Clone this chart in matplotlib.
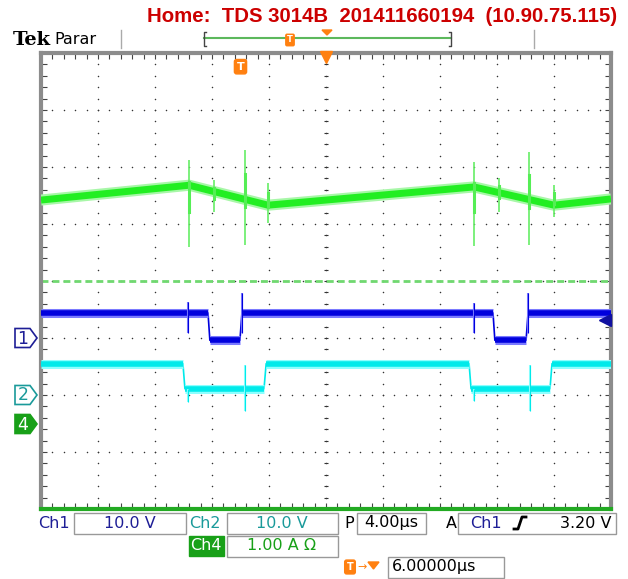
import numpy as np
import matplotlib.pyplot as plt
from matplotlib.patches import Polygon, Rectangle

# time in microseconds (4 us/div, 10 div), vertical in screen divisions (-4..4)
t_green = [0.0, 10.39, 15.93, 30.39, 36.0, 40.0]
v_green = [1.42, 1.68, 1.33, 1.65, 1.33, 1.44]
spk_green_t = [10.39, 12.14, 14.32, 15.93, 30.39, 32.14, 34.25, 36.0]
spk_green_hi = [2.12, 1.77, 2.30, 1.72, 2.09, 1.81, 2.26, 1.68]
spk_green_lo = [0.60, 1.21, 0.63, 1.02, 0.61, 1.21, 0.63, 1.12]

t_ch1 = [0.0, 11.72, 11.85, 13.96, 14.10, 31.72, 31.85, 34.04, 34.18, 40.0]
v_ch1 = [-0.56, -0.56, -1.04, -1.04, -0.56, -0.56, -1.04, -1.04, -0.56, -0.56]
spk_ch1_t = [10.32, 14.10, 30.39, 34.18]
spk_ch1_hi = [-0.37, -0.21, -0.39, -0.21]
spk_ch1_lo = [-0.91, -0.91, -0.91, -0.91]

t_ch2 = [0.0, 9.96, 10.10, 15.65, 15.80, 30.04, 30.18, 35.72, 35.86, 40.0]
v_ch2 = [-1.45, -1.45, -1.89, -1.89, -1.45, -1.45, -1.89, -1.89, -1.45, -1.45]
spk_ch2_t = [10.32, 14.32, 30.39, 34.32]
spk_ch2_hi = [-1.89, -1.47, -1.89, -1.47]
spk_ch2_lo = [-2.12, -2.28, -2.10, -2.28]

ch1_ref = -1.0
ch2_ref = -2.0
ch4_ref = -2.5
trig_level = -0.68
trig_pos = 14.0

DKBLUE = '#1e1e96'
TEAL = '#1a9a9a'
GREEN4 = '#18a018'
ORANGE = '#ff8010'

fig = plt.figure(figsize=(6.28, 5.79), dpi=100)

# chrome layer in pixel coordinates
bg = fig.add_axes([0, 0, 1, 1])
bg.set_xlim(0, 628)
bg.set_ylim(579, 0)
bg.axis('off')

bg.text(147, 17, "Home:  TDS 3014B  201411660194  (10.90.75.115)", color='#cc0000',
        fontsize=14.7, fontweight='bold', family='Liberation Sans', ha='left', va='center')
bg.text(13, 40, "Tek", fontsize=14, fontweight='bold', family='DejaVu Serif', ha='left', va='center')
bg.text(54, 40, "Parar", fontsize=11.5, family='DejaVu Sans', ha='left', va='center')
for x in (121, 534):
    bg.plot([x, x], [30, 48], color='#aaaaaa', lw=1)
bg.plot([204, 451], [38, 38], color='#5cb85c', lw=1.5)
bg.plot([206, 204, 204, 206], [32, 32, 46, 46], color='#444444', lw=1)
bg.plot([449, 451, 451, 449], [32, 32, 46, 46], color='#444444', lw=1)
bg.text(290, 40, "T", color='white', fontsize=6, fontweight='bold', ha='center', va='center',
        bbox=dict(boxstyle='round,pad=0.15', fc=ORANGE, ec=ORANGE))
bg.add_patch(Polygon([[322, 30], [332, 30], [327, 35]], closed=True, color=ORANGE))

# channel markers
def marker(y, label, ec, fc, tc):
    bg.add_patch(Polygon([[15, y - 9.5], [30, y - 9.5], [37, y], [30, y + 9.5], [15, y + 9.5]],
                         closed=True, fc=fc, ec=ec, lw=1.2))
    bg.text(23, y + 0.5, label, color=tc, fontsize=12.5, ha='center', va='center')

marker(338, "1", DKBLUE, 'white', DKBLUE)
marker(395, "2", TEAL, 'white', TEAL)
marker(424, "4", GREEN4, GREEN4, 'white')

# bottom readout
def box(x0, x1, y0, y1):
    bg.add_patch(Rectangle((x0, y0), x1 - x0, y1 - y0, fc='white', ec='#999999', lw=1))

fs = 11.5
box(74, 186, 513, 534)
bg.text(38, 523, "Ch1", color=DKBLUE, fontsize=fs, va='center')
bg.text(130, 523, "10.0 V", color=DKBLUE, fontsize=fs, va='center', ha='center')
box(227, 338, 513, 534)
bg.text(189, 523, "Ch2", color=TEAL, fontsize=fs, va='center')
bg.text(282, 523, "10.0 V", color=TEAL, fontsize=fs, va='center', ha='center')
box(357, 426, 513, 534)
bg.text(344, 523, "P", color='black', fontsize=fs, va='center')
bg.text(391, 523, "4.00µs", color='black', fontsize=fs, va='center', ha='center')
box(458, 616, 513, 534)
bg.text(446, 523, "A", color='black', fontsize=fs, va='center')
bg.text(470, 523, "Ch1", color=DKBLUE, fontsize=fs, va='center')
bg.plot([514, 518, 522, 526], [529, 529, 517, 517], color='black', lw=2)
bg.text(612, 523, "3.20 V", color='black', fontsize=fs, va='center', ha='right')

bg.add_patch(Rectangle((189, 536), 35, 20, fc=GREEN4, ec=GREEN4))
bg.text(206, 546, "Ch4", color='white', fontsize=fs, va='center', ha='center')
box(227, 338, 536, 557)
bg.text(282, 546, "1.00 A Ω", color=GREEN4, fontsize=fs, va='center', ha='center')

bg.text(350, 567, "T", color='white', fontsize=7, fontweight='bold', ha='center', va='center',
        bbox=dict(boxstyle='round,pad=0.2', fc=ORANGE, ec=ORANGE))
bg.text(362, 567, "→", color=ORANGE, fontsize=8, ha='center', va='center')
bg.add_patch(Polygon([[368, 562], [379, 562], [373.5, 569]], closed=True, color=ORANGE))
box(388, 504, 557, 578)
bg.text(392, 567, "6.00000µs", color='black', fontsize=fs, va='center', ha='left')

# graticule
ax = fig.add_axes([41 / 628, 70 / 579, 570 / 628, 456 / 579])
ax.set_xlim(0, 40)
ax.set_ylim(-4, 4)
for s in ax.spines.values():
    s.set_color('#8c8c8c')
    s.set_linewidth(3)
ax.spines['bottom'].set_color('#22aa22')
ax.set_xticks(np.arange(0, 40.1, 4))
ax.set_yticks(np.arange(-4, 4.1, 1))
ax.set_xticks(np.arange(0, 40.1, 0.8), minor=True)
ax.set_yticks(np.arange(-4, 4.1, 0.2), minor=True)
ax.tick_params(which='both', direction='in', length=4, width=0.8, color='#444444',
               top=True, right=True, labelbottom=False, labelleft=False)

ydots = np.arange(-4, 4.01, 0.2)
xdots = np.arange(0, 40.01, 0.8)
for x in np.arange(4, 37, 4):
    ax.scatter(np.full_like(ydots, x), ydots, s=1.2, color='#333333', zorder=1, linewidths=0)
for y in np.arange(-3, 3.5, 1):
    ax.scatter(xdots, np.full_like(xdots, y), s=1.2, color='#333333', zorder=1, linewidths=0)
ax.scatter(np.full_like(ydots, 20), ydots, marker='_', s=12, color='#333333', lw=0.8, zorder=1)

ax.axhline(0, color='#70d870', lw=2, ls=(0, (2.5, 1.45)), zorder=2)
ax.axhline(-4, color='#22bb22', lw=2.5, zorder=2)

# green trace
ax.plot(t_green, v_green, color='#a8f7a8', lw=8, solid_capstyle='butt', zorder=3)
ax.plot(t_green, v_green, color='#22ee22', lw=5, solid_capstyle='butt', zorder=3)
ax.vlines(spk_green_t, spk_green_lo, spk_green_hi, color='#66ee66', lw=1.2, zorder=3)
for t, lo, hi in zip(spk_green_t, spk_green_lo, spk_green_hi):
    ax.plot([t, t], [lo + 0.4 * (hi - lo), hi - 0.25 * (hi - lo)], color='#55ee55', lw=2.2, zorder=3)

def step_trace(t, v, edge, core, spt, splo, sphi):
    ax.plot(t, v, color=core, lw=1.2, zorder=4)
    for i in range(len(t) - 1):
        if v[i] == v[i + 1]:
            ax.plot(t[i:i + 2], v[i:i + 2], color=edge, lw=6.5, solid_capstyle='butt', zorder=4)
            ax.plot(t[i:i + 2], v[i:i + 2], color=core, lw=4, solid_capstyle='butt', zorder=4)
    ax.vlines(spt, splo, sphi, color=edge, lw=1.5, zorder=4)
    ax.vlines(spt, splo, sphi, color=core, lw=0.8, zorder=4)

step_trace(t_ch1, v_ch1, '#7a7aff', '#0000dd', spk_ch1_t, spk_ch1_lo, spk_ch1_hi)
step_trace(t_ch2, v_ch2, '#8cffff', '#00eaea', spk_ch2_t, spk_ch2_lo, spk_ch2_hi)

# trigger markers
ax.plot(39.55, trig_level, marker='<', ms=9, color='#1010a0', zorder=5, clip_on=False)
ax.text(trig_pos, 3.76, "T", color='white', fontsize=8, fontweight='bold', ha='center', va='center',
        bbox=dict(boxstyle='round,pad=0.2', fc=ORANGE, ec=ORANGE), zorder=5)
ax.plot(20, 3.93, marker='v', ms=8, color=ORANGE, zorder=5, clip_on=False)

fig.savefig("out.png", dpi=100)
